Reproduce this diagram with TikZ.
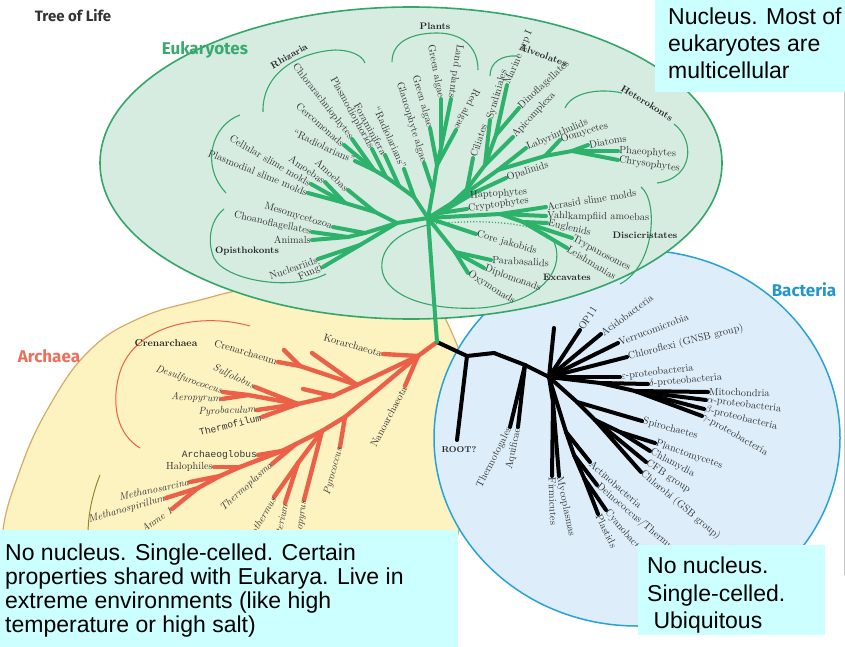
\documentclass[tikz,border=0pt]{standalone}
\usepackage{fontspec}
\newfontfamily\notefont{Liberation Sans}
\newfontfamily\headfont{Fira Sans}
\newfontfamily\typefont{Liberation Mono}
\definecolor{eukfill}{RGB}{214,236,224}
\definecolor{eukedge}{RGB}{52,166,106}
\definecolor{eukbranch}{RGB}{44,178,106}
\definecolor{archfill}{RGB}{253,243,193}
\definecolor{archedge}{RGB}{214,170,100}
\definecolor{archbranch}{RGB}{236,96,72}
\definecolor{bacfill}{RGB}{221,238,250}
\definecolor{bacedge}{RGB}{40,162,214}
\definecolor{notefill}{RGB}{204,255,255}
\definecolor{labtext}{RGB}{52,52,52}
\definecolor{headgreen}{RGB}{58,170,112}
\definecolor{headred}{RGB}{234,112,92}
\definecolor{headblue}{RGB}{36,150,204}
\tikzset{
  eb/.style={draw=eukbranch, line width=4pt, line cap=round},
  ab/.style={draw=archbranch, line width=4.4pt, line cap=round},
  bb/.style={draw=black, line width=4pt, line cap=round},
  bracket/.style={draw=eukedge, line width=1.1pt},
  lab/.style={font=\fontsize{10.3}{11}\selectfont, text=labtext, inner sep=1pt},
  ilab/.style={lab, font=\fontsize{10.3}{11}\selectfont\itshape},
  tlab/.style={lab, font=\fontsize{9.6}{11}\selectfont\typefont},
  grp/.style={font=\fontsize{9.4}{10}\selectfont\bfseries, text=black!85, inner sep=0pt},
  head/.style={font=\fontsize{17}{19}\selectfont\headfont\bfseries, inner sep=0pt},
  note/.style={font=\fontsize{23}{25}\selectfont\notefont, anchor=base west, inner sep=0pt},
}
\begin{document}
\begin{tikzpicture}[x=1pt,y=-1pt]
\useasboundingbox (0,0) rectangle (845,647);
\fill[white] (0,0) rectangle (845,647);
\draw[gray!45, line width=0.8pt] (844,0) -- (844,575);

% ---------- domain outlines ----------
\draw[archedge, line width=1.2pt, fill=archfill] plot[smooth cycle, tension=0.7] coordinates
  {(2,540) (20,470) (50,405) (90,350) (140,318) (200,300) (260,287) (340,283) (420,296)
   (455,340) (470,410) (465,490) (440,570) (350,635) (150,645) (10,610)};
\draw[bacedge, line width=1.5pt, fill=bacfill] (637,438) ellipse [x radius=203, y radius=188];
\draw[eukedge, line width=1.6pt, fill=eukfill] (411,163) ellipse [x radius=311, y radius=156];

% ---------- headings ----------
\node[font=\fontsize{15}{17}\selectfont\headfont\bfseries, text=black!80] (title) at (73,16) {Tree of Life};
\node[head, text=headgreen] (eukhead) at (205,50) {Eukaryotes};
\node[head, text=headred] (archhead) at (49,356) {Archaea};
\node[head, text=headblue] (bachead) at (804,290) {Bacteria};

% ---------- eukaryote brackets ----------
\draw[bracket] (263,112) .. controls (262,72) and (300,52) .. (335,50) .. controls (350,50) and (362,55) .. (365,63);
\draw[bracket] (240,115) .. controls (212,125) and (200,165) .. (226,193);
\draw[bracket] (224,209) .. controls (208,222) and (208,245) .. (214,258) .. controls (225,280) and (290,292) .. (326,274);
\draw[bracket] (392,62) .. controls (392,40) and (415,33) .. (437,33) .. controls (460,33) and (478,45) .. (478,70);
\draw[bracket] (490,76) .. controls (490,62) and (502,55) .. (517,56);
\draw[bracket] (565,108) .. controls (572,92) and (600,88) .. (622,93);
\draw[bracket] (674,124) .. controls (695,140) and (694,178) .. (657,183);
\draw[bracket] (641,187) .. controls (658,200) and (656,265) .. (620,284);
\draw[bracket, dotted, line width=1.3pt] (433,224) .. controls (480,219) and (535,222) .. (552,238);
\draw[bracket] (552,238) .. controls (568,265) and (545,303) .. (480,308) .. controls (420,311) and (378,292) .. (382,262) .. controls (385,240) and (410,228) .. (433,224);

\node[grp, rotate=30] (rhizaria) at (289,56) {Rhizaria};
\node[grp] (plants) at (435,26) {Plants};
\node[grp, rotate=-20] (alveolates) at (543,55) {Alveolates};
\node[grp, rotate=-32] (heterokonts) at (647,103) {Heterokonts};
\node[grp] (discicristates) at (645,235) {Discicristates};
\node[grp] (excavates) at (567,277) {Excavates};
\node[grp] (opisthokonts) at (247,251) {Opisthokonts};

% ---------- archaea ----------
\draw[archbranch, line width=1pt] (250,326) .. controls (200,312) and (135,325) .. (120,372) .. controls (110,405) and (118,435) .. (140,448);
\draw[olive!70!gray, line width=1pt] (100,475) .. controls (92,495) and (88,515) .. (88,535);
\node[grp, font=\fontsize{10}{11}\selectfont\bfseries, text=black!85] (crenarchaea) at (166,343) {Crenarchaea};

\coordinate (J) at (437,342);
\coordinate (K0) at (418,356);
\coordinate (Kor) at (383,354);
\coordinate (Nano) at (405,386);
\coordinate (C0) at (357,385);
\coordinate (Cu1) at (312,353);
\coordinate (Cr1) at (300,366);
\coordinate (Cren) at (278,362);
\coordinate (Cu2) at (284,350);
\coordinate (C1) at (333,396);
\coordinate (Cu3) at (303,389);
\coordinate (C2) at (298,404);
\coordinate (Sulf) at (255,387);
\coordinate (C3) at (248,395);
\coordinate (Desulf) at (223,392);
\coordinate (Aero) at (222,399);
\coordinate (Pyro) at (257,410);
\coordinate (Therm) at (262,417);
\coordinate (E1) at (345,417);
\coordinate (Pyroc) at (340,447);
\coordinate (E2) at (322,431);
\coordinate (Mpy) at (304,500);
\coordinate (M1) at (298,463);
\coordinate (Mbac) at (285,503);
\coordinate (Mth) at (274,497);
\coordinate (E3) at (296,444);
\coordinate (Tpl) at (272,464);
\coordinate (E4) at (282,451);
\coordinate (Aglo) at (258,455);
\coordinate (E5) at (240,467);
\coordinate (Halo) at (214,467);
\coordinate (E6) at (220,476);
\coordinate (Msar) at (190,482);
\coordinate (E7) at (198,488);
\coordinate (Mspi) at (166,498);
\coordinate (Anme) at (172,509);

\foreach \a/\b in {J/K0, K0/Kor, K0/Nano, K0/C0, C0/Cu1, C0/Cr1, Cr1/Cren, Cr1/Cu2, C0/C1, C1/Cu3,
  C1/C2, C2/Sulf, C2/C3, C3/Desulf, C3/Aero, C2/Pyro, C2/Therm, K0/E1, E1/Pyroc, E1/E2, E2/Mpy,
  E2/M1, M1/Mbac, M1/Mth, E2/E3, E3/Tpl, E3/E4, E4/Aglo, E4/E5, E5/Halo, E5/E6, E6/Msar, E6/E7,
  E7/Mspi, E7/Anme}
  \draw[ab] (\a) -- (\b);

\begin{scope}
\clip (0,0) rectangle (845,530);
\node[lab, anchor=east, rotate=-16] (Kor-l) at (Kor) {Korarchaeota};
\node[lab, anchor=east, rotate=62] (Nano-l) at (Nano) {Nanoarchaeota};
\node[lab, anchor=east, rotate=-17] (Cren-l) at (Cren) {Crenarchaeum};
\node[ilab, anchor=east, rotate=-25] (Sulf-l) at (Sulf) {Sulfolobus};
\node[ilab, anchor=east, rotate=-19] (Desulf-l) at (Desulf) {Desulfurococcus};
\node[ilab, anchor=east, rotate=-2] (Aero-l) at (Aero) {Aeropyrum};
\node[ilab, anchor=east, rotate=2] (Pyro-l) at (Pyro) {Pyrobaculum};
\node[tlab, anchor=east, rotate=14] (Therm-l) at (Therm) {Thermofilum};
\node[ilab, anchor=east, rotate=75] (Pyroc-l) at (Pyroc) {Pyrococcus};
\node[ilab, anchor=east, rotate=82] (Mpy-l) at (Mpy) {Methanopyrus};
\node[ilab, anchor=east, rotate=78] (Mbac-l) at (Mbac) {Methanobacterium};
\node[ilab, anchor=east, rotate=60] (Mth-l) at (Mth) {Methanothermus};
\node[ilab, anchor=east, rotate=42] (Tpl-l) at (Tpl) {Thermoplasma};
\node[tlab, anchor=east] (Aglo-l) at (Aglo) {Archaeoglobus};
\node[lab, anchor=east] (Halo-l) at (Halo) {Halophiles};
\node[ilab, anchor=east, rotate=12] (Msar-l) at (Msar) {Methanosarcina};
\node[ilab, anchor=east, rotate=16] (Mspi-l) at (Mspi) {Methanospirillum};
\node[ilab, anchor=east, rotate=35] (Anme-l) at (Anme) {Anme 1};
\end{scope}

% ---------- bacteria ----------
\coordinate (Bk1) at (467,356);
\coordinate (Root) at (457,440);
\coordinate (Bk2) at (494,353);
\coordinate (Bk3) at (525,365);
\coordinate (Ttog) at (510,427);
\coordinate (Aqui) at (518,427);
\coordinate (BH) at (549,377);
\coordinate (Bup) at (554,328);
\coordinate (OP) at (580,330);
\coordinate (Acid) at (601,334);
\coordinate (Verr) at (618,343);
\coordinate (Chfx) at (627,357);
\coordinate (Eps) at (620,377);
\coordinate (Pr1) at (600,383);
\coordinate (Delt) at (648,384);
\coordinate (Pr2) at (635,391);
\coordinate (Mito) at (708,392);
\coordinate (Alph) at (706,400);
\coordinate (Beta) at (704,409);
\coordinate (Gamm) at (702,416);
\coordinate (F0) at (553,402);
\coordinate (Firm) at (552,476);
\coordinate (Myco) at (559,476);
\coordinate (Bs1) at (577,402);
\coordinate (Spir) at (642,421);
\coordinate (Bs2) at (595,420);
\coordinate (CFB) at (646,462);
\coordinate (Chlb) at (641,472);
\coordinate (Bs3) at (620,432);
\coordinate (Plan) at (655,443);
\coordinate (Chla) at (650,451);
\coordinate (G0) at (566,432);
\coordinate (Acti) at (590,462);
\coordinate (G1) at (574,455);
\coordinate (Dein) at (597,485);
\coordinate (G2) at (584,478);
\coordinate (Cyan) at (606,510);
\coordinate (Plst) at (598,514);

\foreach \a/\b in {J/Bk1, Bk1/Root, Bk1/Bk2, Bk2/Bk3, Bk3/Ttog, Bk3/Aqui, Bk3/BH, BH/Bup, BH/OP,
  BH/Acid, BH/Verr, BH/Chfx, BH/Eps, BH/Pr1, Pr1/Delt, Pr1/Pr2, Pr2/Mito, Pr2/Alph, Pr2/Beta,
  Pr2/Gamm, BH/F0, F0/Firm, F0/Myco, BH/Bs1, Bs1/Spir, Bs1/Bs2, Bs2/CFB, Bs2/Chlb, Bs2/Bs3,
  Bs3/Plan, Bs3/Chla, BH/G0, G0/Acti, G0/G1, G1/Dein, G1/G2, G2/Cyan, G2/Plst}
  \draw[bb] (\a) -- (\b);

\node[font=\fontsize{8.4}{9}\selectfont\bfseries, text=black!85, anchor=north] (Root-l) at (459,443) {ROOT?};
\node[lab, anchor=east, rotate=63] (Ttog-l) at (Ttog) {Thermotogales};
\node[lab, anchor=east, rotate=78] (Aqui-l) at (Aqui) {Aquificae};
\node[lab, anchor=west, rotate=57] (OP-l) at (OP) {OP11};
\node[lab, anchor=west, rotate=36] (Acid-l) at (Acid) {Acidobacteria};
\node[lab, anchor=west, rotate=21] (Verr-l) at (Verr) {Verrucomicrobia};
\node[lab, anchor=west, rotate=14] (Chfx-l) at (Chfx) {Chloroflexi (GNSB group)};
\node[lab, anchor=west, rotate=7] (Eps-l) at (Eps) {$\varepsilon$-proteobacteria};
\node[lab, anchor=west, rotate=5] (Delt-l) at (Delt) {$\delta$-proteobacteria};
\node[lab, anchor=west, rotate=-1] (Mito-l) at (Mito) {Mitochondria};
\node[lab, anchor=west, rotate=-7] (Alph-l) at (Alph) {$\alpha$-proteobacteria};
\node[lab, anchor=west, rotate=-14] (Beta-l) at (Beta) {$\beta$-proteobacteria};
\node[lab, anchor=west, rotate=-30] (Gamm-l) at (Gamm) {$\gamma$-proteobacteria};
\node[lab, anchor=west, rotate=-15] (Spir-l) at (Spir) {Spirochaetes};
\node[lab, anchor=west, rotate=-19] (Plan-l) at (Plan) {Planctomycetes};
\node[lab, anchor=west, rotate=-28] (Chla-l) at (Chla) {Chlamydia};
\node[lab, anchor=west, rotate=-33] (CFB-l) at (CFB) {CFB group};
\node[lab, anchor=west, rotate=-40] (Chlb-l) at (Chlb) {Chlorobi (GSB group)};
\node[lab, anchor=west, rotate=-41] (Acti-l) at (Acti) {Actinobacteria};
\node[lab, anchor=west, rotate=-64] (Plst-l) at (Plst) {Plastids};
\node[lab, anchor=west, rotate=-88] (Firm-l) at (Firm) {Firmicutes};
\node[lab, anchor=west, rotate=-78] (Myco-l) at (Myco) {Mycoplasmas};
\begin{scope}
\clip (0,0) rectangle (845,545);
\node[lab, anchor=west, rotate=-40] (Dein-l) at (Dein) {Deinococcus/Thermus};
\node[lab, anchor=west, rotate=-50] (Cyan-l) at (Cyan) {Cyanobacteria};
\end{scope}

% ---------- eukaryotes ----------
\coordinate (H) at (428,218);
\coordinate (U0) at (397,223);
\coordinate (A1) at (375,212);
\coordinate (A2) at (345,203);
\coordinate (Cell) at (311,184);
\coordinate (Plas) at (308,193);
\coordinate (Am1) at (325,182);
\coordinate (Am2) at (348,190);
\coordinate (O1) at (365,233);
\coordinate (O2) at (348,237);
\coordinate (Meso) at (333,227);
\coordinate (Choa) at (312,232);
\coordinate (Anim) at (312,240);
\coordinate (O3) at (360,245);
\coordinate (Nucl) at (318,259);
\coordinate (Fung) at (323,267);
\coordinate (R0) at (414,197);
\coordinate (R1) at (399,186);
\coordinate (R2) at (386,177);
\coordinate (R3) at (374,170);
\coordinate (Rad1) at (404,169);
\coordinate (Fora) at (385,155);
\coordinate (Plmo) at (372,149);
\coordinate (Chlo) at (352,139);
\coordinate (Cerc) at (344,145);
\coordinate (Rad2) at (355,161);
\coordinate (P0) at (433,190);
\coordinate (P1) at (437,165);
\coordinate (P2) at (441,148);
\coordinate (Glau) at (424,163);
\coordinate (GA1) at (430,128);
\coordinate (GA2) at (441,99);
\coordinate (LP) at (451,99);
\coordinate (RA) at (456,130);
\coordinate (SA) at (452,203);
\coordinate (Al0) at (467,189);
\coordinate (Al1) at (485,165);
\coordinate (Al2) at (496,135);
\coordinate (Cil) at (473,158);
\coordinate (Synd) at (490,120);
\coordinate (Apic) at (513,137);
\coordinate (Mari) at (507,85);
\coordinate (Dino) at (519,108);
\coordinate (Opal) at (506,178);
\coordinate (Het0) at (498,170);
\coordinate (Het1) at (545,156);
\coordinate (Het2) at (572,151);
\coordinate (Laby) at (526,148);
\coordinate (Oomy) at (560,140);
\coordinate (Diat) at (588,145);
\coordinate (Phae) at (618,151);
\coordinate (Chry) at (618,160);
\coordinate (Cr0) at (440,213);
\coordinate (Hapt) at (469,196);
\coordinate (Cryp) at (467,209);
\coordinate (D0) at (500,214);
\coordinate (D1) at (523,222);
\coordinate (Acra) at (546,207);
\coordinate (Vahl) at (546,216);
\coordinate (Eugl) at (547,223);
\coordinate (Tryp) at (572,238);
\coordinate (Leis) at (567,248);
\coordinate (CJ) at (476,234);
\coordinate (Ex1) at (455,252);
\coordinate (Para) at (491,260);
\coordinate (Dipl) at (484,268);
\coordinate (Oxym) at (468,273);

\foreach \a/\b in {J/H, H/U0, U0/A1, A1/Am2, A1/A2, A2/Plas, A2/Cell, A2/Am1, U0/O1, O1/Meso,
  O1/O2, O2/Choa, O2/Anim, U0/O3, O3/Nucl, O3/Fung, H/R0, R0/Rad1, R0/R1, R1/Fora, R1/R2,
  R2/Plmo, R2/R3, R3/Chlo, R3/Cerc, R3/Rad2, H/P0, P0/Glau, P0/P1, P1/GA1, P1/P2, P2/GA2, P2/LP,
  P1/RA, H/SA, SA/Al0, Al0/Cil, Al0/Al1, Al1/Synd, Al1/Apic, Al1/Al2, Al2/Mari, Al2/Dino,
  SA/Opal, SA/Het0, Het0/Laby, Het0/Het1, Het1/Oomy, Het1/Het2, Het2/Diat, Het2/Phae, Het2/Chry,
  H/Cr0, Cr0/Hapt, Cr0/Cryp, H/D0, D0/Acra, D0/Vahl, D0/D1, D1/Eugl, D1/Tryp, D1/Leis,
  H/CJ, H/Ex1, Ex1/Para, Ex1/Dipl, Ex1/Oxym}
  \draw[eb] (\a) -- (\b);

\node[lab, anchor=east, rotate=-17] (Meso-l) at (Meso) {Mesomycetozoa};
\node[lab, anchor=east, rotate=-12] (Choa-l) at (Choa) {Choanoflagellates};
\node[lab, anchor=east] (Anim-l) at (Anim) {Animals};
\node[lab, anchor=east, rotate=20] (Nucl-l) at (Nucl) {Nucleariids};
\node[lab, anchor=east, rotate=24] (Fung-l) at (Fung) {Fungi};
\node[lab, anchor=east, rotate=-30] (Cell-l) at (Cell) {Cellular slime molds};
\node[lab, anchor=east, rotate=-22] (Plas-l) at (Plas) {Plasmodial slime molds};
\node[lab, anchor=east, rotate=-35] (Am1-l) at (Am1) {Amoebas};
\node[lab, anchor=east, rotate=-43] (Am2-l) at (Am2) {Amoebas};
\node[lab, anchor=east, rotate=-66] (Rad1-l) at (Rad1) {“Radiolarians”};
\node[lab, anchor=east, rotate=-61] (Fora-l) at (Fora) {Foraminifera};
\node[lab, anchor=east, rotate=-61] (Plmo-l) at (Plmo) {Plasmodiophorids};
\node[lab, anchor=east, rotate=-52] (Chlo-l) at (Chlo) {Chlorarachniophytes};
\node[lab, anchor=east, rotate=-41] (Cerc-l) at (Cerc) {Cercomonads};
\node[lab, anchor=east, rotate=-25] (Rad2-l) at (Rad2) {“Radiolarians”};
\node[lab, anchor=east, rotate=-73] (Glau-l) at (Glau) {Glaucophyte algae};
\node[lab, anchor=east, rotate=-74] (GA1-l) at (GA1) {Green algae};
\node[lab, anchor=east, rotate=-79] (GA2-l) at (GA2) {Green algae};
\node[lab, anchor=east, rotate=-99] (LP-l) at (LP) {Land plants};
\node[lab, anchor=east, rotate=-117] (RA-l) at (RA) {Red algae};
\node[lab, anchor=west, rotate=72] (Cil-l) at (Cil) {Ciliates};
\node[lab, anchor=west, rotate=74] (Synd-l) at (Synd) {Syndiniales};
\node[lab, anchor=west, rotate=67] (Mari-l) at (Mari) {Marine grp I};
\node[lab, anchor=west, rotate=43] (Dino-l) at (Dino) {Dinoflagellates};
\node[lab, anchor=west, rotate=47] (Apic-l) at (Apic) {Apicomplexa};
\node[lab, anchor=west, rotate=23] (Laby-l) at (Laby) {Labyrinthulids};
\node[lab, anchor=west, rotate=17] (Oomy-l) at (Oomy) {Oomycetes};
\node[lab, anchor=west, rotate=10] (Diat-l) at (Diat) {Diatoms};
\node[lab, anchor=west, rotate=-3] (Phae-l) at (Phae) {Phaeophytes};
\node[lab, anchor=west, rotate=-8] (Chry-l) at (Chry) {Chrysophytes};
\node[lab, anchor=west, rotate=17] (Opal-l) at (Opal) {Opalinids};
\node[lab, anchor=west, rotate=4] (Hapt-l) at (Hapt) {Haptophytes};
\node[lab, anchor=west, rotate=8] (Cryp-l) at (Cryp) {Cryptophytes};
\node[lab, anchor=west, rotate=9] (Acra-l) at (Acra) {Acrasid slime molds};
\node[lab, anchor=west, rotate=-1] (Vahl-l) at (Vahl) {Vahlkampfiid amoebas};
\node[lab, anchor=west, rotate=-13] (Eugl-l) at (Eugl) {Euglenids};
\node[lab, anchor=west, rotate=-28] (Tryp-l) at (Tryp) {Trypanosomes};
\node[lab, anchor=west, rotate=-31] (Leis-l) at (Leis) {Leishmanias};
\node[lab, anchor=west, rotate=-16] (CJ-l) at (CJ) {Core jakobids};
\node[lab, anchor=west, rotate=-3] (Para-l) at (Para) {Parabasalids};
\node[lab, anchor=west, rotate=-20] (Dipl-l) at (Dipl) {Diplomonads};
\node[lab, anchor=west, rotate=-32] (Oxym-l) at (Oxym) {Oxymonads};

% ---------- note boxes ----------
\fill[notefill] (655,0) rectangle (845,92);
\node[note] (nt1) at (668,25) {Nucleus. Most of};
\node[note] (nt2) at (668,52) {eukaryotes are};
\node[note] (nt3) at (668,79) {multicellular};

\fill[notefill] (0,530) rectangle (458,647);
\node[note] (nl1) at (5,560) {No nucleus. Single-celled. Certain};
\node[note] (nl2) at (5,584) {properties shared with Eukarya. Live in};
\node[note] (nl3) at (5,608) {extreme environments (like high};
\node[note] (nl4) at (5,632) {temperature or high salt)};

\fill[notefill] (638,545) rectangle (825,635);
\node[note] (nr1) at (647,573) {No nucleus.};
\node[note] (nr2) at (647,601) {Single-celled.};
\node[note] (nr3) at (647,628) {\ Ubiquitous};
\end{tikzpicture}
\end{document}
